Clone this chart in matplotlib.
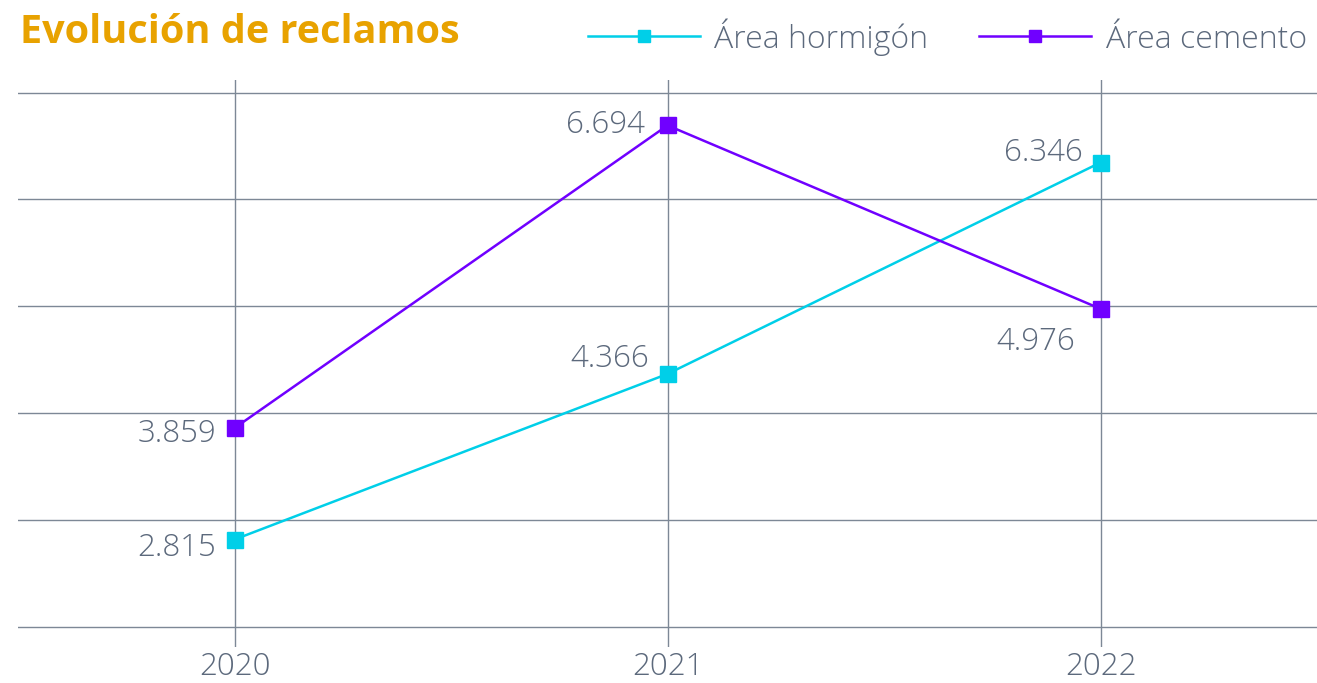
import matplotlib.pyplot as plt

years = ["2020", "2021", "2022"]
hormigon = [2.815, 4.366, 6.346]
cemento = [3.859, 6.694, 4.976]
hormigon_lbl = ["2.815", "4.366", "6.346"]
cemento_lbl = ["3.859", "6.694", "4.976"]
grid_levels = [2, 3, 4, 5, 6, 7]

cyan = "#00CFE8"
purple = "#7000FF"
grid_col = "#7D8896"
text_col = "#5C697C"
title_col = "#E8A200"

plt.rcParams['font.family'] = ['Open Sans', 'DejaVu Sans']

fig = plt.figure(figsize=(13.17, 6.83), dpi=100)
ax = fig.add_axes([0.0137, 0.053, 0.9863, 0.83])

x = range(len(years))
for y in grid_levels:
    ax.axhline(y, color=grid_col, lw=1.0, zorder=1)
for xi in x:
    ax.axvline(xi, color=grid_col, lw=1.0, zorder=1)

ax.plot(x, hormigon, color=cyan, lw=1.8, marker="s", ms=11.5, label="Área hormigón", zorder=3)
ax.plot(x, cemento, color=purple, lw=1.8, marker="s", ms=11.5, label="Área cemento", zorder=3)

# data labels: offsets (points) per point
h_off = [(-13, -6), (-13, 11), (-13, 7)]
c_off = [(-13, -4), (-16, 0), (-18, -24)]
for i in x:
    ax.annotate(hormigon_lbl[i], (i, hormigon[i]), xytext=h_off[i], textcoords="offset points",
                ha="right", va="center", fontsize=22.5, color=text_col, fontweight="light")
    ax.annotate(cemento_lbl[i], (i, cemento[i]), xytext=c_off[i], textcoords="offset points",
                ha="right", va="center", fontsize=22.5, color=text_col, fontweight="light")

ax.set_xlim(-0.5, 2.5)
ax.set_ylim(1.81, 7.12)
ax.set_xticks(list(x))
ax.set_xticklabels(years, fontsize=22.5, color=text_col, fontweight="light")
ax.set_yticks([])
ax.tick_params(axis="x", length=0, pad=3)
for s in ax.spines.values():
    s.set_visible(False)

fig.text(0.015, 0.952, "Evolución de reclamos", fontsize=28.5, fontweight="bold",
         color=title_col, va="center", ha="left")

leg = fig.legend(loc="center right", bbox_to_anchor=(1.014, 0.946), ncol=2, frameon=False,
                 handlelength=3.5, columnspacing=1.6, handletextpad=0.45,
                 prop={'size': 23, 'weight': 'light'})
for t in leg.get_texts():
    t.set_color(text_col)
for h in leg.legend_handles:
    h.set_markersize(8)

fig.savefig("out.png", dpi=100)
